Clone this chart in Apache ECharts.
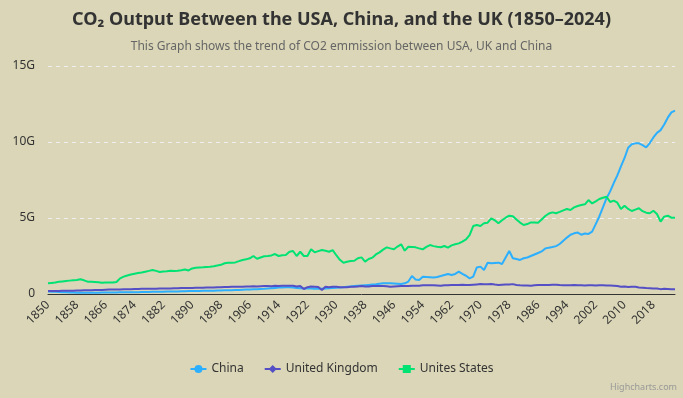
<!DOCTYPE html>
<html lang="en">
<head>
  <meta charset="UTF-8">
  <title>CO2 Output</title>
  <style>
    html, body { margin: 0; padding: 0; background: #dad6b7; }
    #main { width: 683px; height: 398px; }
  </style>
  <script src="https://cdn.jsdelivr.net/npm/echarts@6/dist/echarts.min.js"></script>
</head>
<body>
  <div id="main"></div>
  <script>
    // years 1850 .. 2024
    var years = [];
    for (var y = 1850; y <= 2024; y++) years.push(String(y));

    // emissions in billions of tonnes (G), one value per year
    var china = [
      0.16, 0.15, 0.14, 0.13, 0.12, 0.11, 0.10, 0.10, 0.09, 0.09,
      0.09, 0.09, 0.09, 0.09, 0.09, 0.10, 0.10, 0.10, 0.10, 0.10,
      0.11, 0.11, 0.11, 0.12, 0.12, 0.12, 0.13, 0.13, 0.13, 0.14,
      0.14, 0.15, 0.15, 0.16, 0.16, 0.17, 0.17, 0.18, 0.18, 0.19,
      0.19, 0.20, 0.20, 0.21, 0.21, 0.22, 0.22, 0.23, 0.23, 0.24,
      0.24, 0.25, 0.26, 0.27, 0.28, 0.29, 0.30, 0.31, 0.32, 0.33,
      0.34, 0.36, 0.38, 0.40, 0.42, 0.43, 0.44, 0.44, 0.42, 0.40,
      0.38, 0.37, 0.36, 0.36, 0.35, 0.35, 0.34, 0.36, 0.38, 0.40,
      0.41, 0.43, 0.45, 0.48, 0.50, 0.52, 0.54, 0.56, 0.58, 0.60,
      0.62, 0.64, 0.68, 0.70, 0.70, 0.70, 0.69, 0.68, 0.66, 0.70,
      0.82, 1.18, 0.96, 0.92, 1.14, 1.12, 1.10, 1.08, 1.12, 1.18,
      1.25, 1.32, 1.25, 1.32, 1.47, 1.32, 1.20, 1.03, 1.14, 1.75,
      1.80, 1.58, 2.06, 2.02, 2.04, 2.06, 1.97, 2.40, 2.83, 2.35,
      2.30, 2.24, 2.35, 2.40, 2.50, 2.60, 2.70, 2.80, 3.00, 3.05,
      3.09, 3.15, 3.29, 3.50, 3.71, 3.90, 3.99, 4.04, 3.90, 3.98,
      3.95, 4.10, 4.60, 5.10, 5.70, 6.30, 6.75, 7.30, 7.80, 8.40,
      8.95, 9.62, 9.85, 9.91, 9.91, 9.80, 9.65, 9.93, 10.30, 10.60,
      10.78, 11.15, 11.60, 11.95, 12.06
    ];
    var uk = [
      0.19, 0.19, 0.20, 0.20, 0.21, 0.21, 0.22, 0.22, 0.23, 0.23,
      0.24, 0.25, 0.25, 0.26, 0.27, 0.27, 0.28, 0.29, 0.29, 0.30,
      0.30, 0.31, 0.32, 0.32, 0.33, 0.33, 0.34, 0.34, 0.35, 0.35,
      0.35, 0.36, 0.36, 0.37, 0.37, 0.38, 0.38, 0.39, 0.39, 0.40,
      0.40, 0.41, 0.41, 0.41, 0.42, 0.43, 0.43, 0.44, 0.45, 0.46,
      0.46, 0.47, 0.47, 0.48, 0.48, 0.49, 0.50, 0.51, 0.50, 0.51,
      0.52, 0.52, 0.51, 0.54, 0.53, 0.54, 0.55, 0.55, 0.54, 0.50,
      0.52, 0.33, 0.45, 0.49, 0.48, 0.46, 0.26, 0.48, 0.44, 0.48,
      0.47, 0.45, 0.44, 0.45, 0.47, 0.48, 0.50, 0.52, 0.49, 0.50,
      0.52, 0.52, 0.53, 0.52, 0.51, 0.47, 0.49, 0.51, 0.52, 0.52,
      0.53, 0.55, 0.54, 0.55, 0.57, 0.57, 0.58, 0.57, 0.56, 0.55,
      0.58, 0.58, 0.59, 0.60, 0.60, 0.61, 0.60, 0.59, 0.61, 0.63,
      0.65, 0.64, 0.64, 0.66, 0.62, 0.60, 0.61, 0.62, 0.62, 0.65,
      0.59, 0.57, 0.56, 0.56, 0.55, 0.58, 0.59, 0.59, 0.59, 0.60,
      0.61, 0.61, 0.59, 0.58, 0.57, 0.57, 0.59, 0.57, 0.57, 0.56,
      0.57, 0.58, 0.56, 0.57, 0.57, 0.56, 0.56, 0.55, 0.53, 0.48,
      0.50, 0.46, 0.48, 0.47, 0.43, 0.41, 0.39, 0.38, 0.37, 0.36,
      0.32, 0.34, 0.33, 0.31, 0.31
    ];
    var usa = [
      0.70, 0.73, 0.76, 0.80, 0.83, 0.86, 0.88, 0.90, 0.92, 0.97,
      0.90, 0.81, 0.80, 0.79, 0.77, 0.74, 0.75, 0.76, 0.76, 0.79,
      1.03, 1.14, 1.22, 1.28, 1.33, 1.38, 1.42, 1.47, 1.52, 1.58,
      1.52, 1.45, 1.48, 1.50, 1.53, 1.52, 1.53, 1.56, 1.61, 1.55,
      1.68, 1.73, 1.75, 1.76, 1.78, 1.80, 1.83, 1.88, 1.92, 2.02,
      2.06, 2.05, 2.08, 2.16, 2.24, 2.28, 2.35, 2.50, 2.32, 2.40,
      2.48, 2.50, 2.54, 2.63, 2.50, 2.55, 2.57, 2.78, 2.83, 2.50,
      2.78, 2.50, 2.50, 2.94, 2.74, 2.82, 2.89, 2.84, 2.78, 2.89,
      2.55, 2.25, 2.06, 2.12, 2.17, 2.19, 2.35, 2.41, 2.13, 2.30,
      2.39, 2.60, 2.74, 2.92, 3.07, 3.00, 2.94, 3.12, 3.27, 2.85,
      3.11, 3.10, 3.07, 3.00, 2.94, 3.10, 3.22, 3.15, 3.11, 3.08,
      3.16, 3.05, 3.20, 3.27, 3.33, 3.45, 3.60, 3.88, 4.47, 4.54,
      4.47, 4.65, 4.69, 4.98, 4.85, 4.65, 4.85, 5.02, 5.15, 5.12,
      4.90, 4.70, 4.54, 4.60, 4.71, 4.70, 4.69, 4.90, 5.13, 5.30,
      5.37, 5.31, 5.40, 5.50, 5.59, 5.53, 5.70, 5.79, 5.85, 5.90,
      6.18, 5.96, 6.10, 6.25, 6.33, 6.40, 6.05, 6.14, 6.01, 5.59,
      5.81, 5.60, 5.46, 5.55, 5.64, 5.45, 5.35, 5.31, 5.48, 5.26,
      4.76, 5.09, 5.15, 5.02, 5.02
    ];
    var yTicks = [0, 5, 10, 15];

    var fontFamily = '"Noto Sans", "Open Sans", sans-serif';
    var chart = echarts.init(document.getElementById('main'));

    var option = {
      backgroundColor: '#dad6b7',
      textStyle: { fontFamily: fontFamily },
      title: {
        text: 'CO\u2082 Output Between the USA, China, and the UK (1850\u20132024)',
        subtext: 'This Graph shows the trend of CO2 emmission between USA, UK and China',
        left: 'center',
        top: 6,
        itemGap: 12,
        textStyle: { fontSize: 18, fontWeight: 'bold', color: '#333333', fontFamily: fontFamily },
        subtextStyle: { fontSize: 12, color: '#666666', fontFamily: fontFamily }
      },
      legend: {
        bottom: 18,
        left: 'center',
        itemWidth: 16,
        itemHeight: 10,
        itemGap: 20,
        textStyle: { fontSize: 12, color: '#333333', fontFamily: fontFamily },
        data: ['China', 'United Kingdom', 'Unites States']
      },
      grid: { left: 48, right: 8, top: 66, bottom: 104 },
      xAxis: {
        type: 'category',
        boundaryGap: false,
        data: years,
        axisLine: { lineStyle: { color: '#333333', width: 1 } },
        axisTick: { show: false },
        axisLabel: {
          interval: 7,
          rotate: 45,
          fontSize: 12,
          color: '#333333',
          margin: 9
        }
      },
      yAxis: {
        type: 'value',
        min: 0,
        max: 15,
        interval: 5,
        axisLine: { show: false },
        axisTick: { show: false },
        splitLine: { lineStyle: { color: '#eeeeee', type: [4, 4] } },
        axisLabel: {
          fontSize: 12,
          color: '#333333',
          margin: 13,
          formatter: function (v) {
            return yTicks.indexOf(v) >= 0 && v !== 0 ? v + 'G' : '0';
          }
        }
      },
      series: [
        {
          name: 'China', type: 'line', data: china,
          symbol: 'circle', showSymbol: false,
          color: '#2caffe', lineStyle: { width: 2 }
        },
        {
          name: 'United Kingdom', type: 'line', data: uk,
          symbol: 'diamond', showSymbol: false,
          color: '#544fc5', lineStyle: { width: 2 }
        },
        {
          name: 'Unites States', type: 'line', data: usa,
          symbol: 'rect', showSymbol: false,
          color: '#00e272', lineStyle: { width: 2 }
        }
      ],
      graphic: [{
        type: 'text',
        right: 6,
        bottom: 6,
        style: { text: 'Highcharts.com', fontSize: 9, fill: '#999999', fontFamily: fontFamily }
      }]
    };
    chart.setOption(option);
  </script>
</body>
</html>
